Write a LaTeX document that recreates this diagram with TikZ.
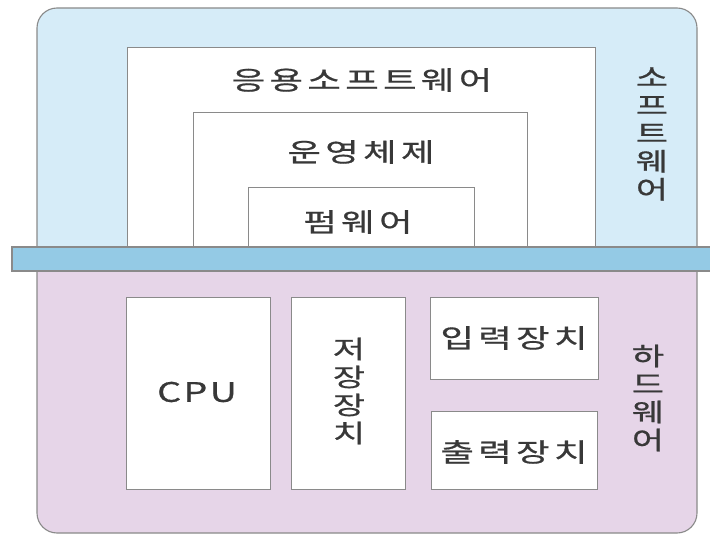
\documentclass[tikz,border=0pt]{standalone}
\usepackage{fontspec}
\newfontfamily\kfont[FakeBold=0.6]{Noto Sans CJK KR}
\newfontfamily\kfontsp[LetterSpace=12,FakeBold=0.6]{Noto Sans CJK KR}
\definecolor{swfill}{HTML}{D6ECF8}
\definecolor{barfill}{HTML}{94CAE5}
\definecolor{hwfill}{HTML}{E6D5E8}
\definecolor{edge}{HTML}{8A8A8A}
\definecolor{txt}{HTML}{383838}
\tikzset{
  box/.style={draw=edge, line width=1.1pt, fill=white, anchor=north west, inner sep=0pt},
  lbl/.style={font=\kfontsp\fontsize{26}{28}\selectfont, text=txt, inner sep=0pt, xscale=1.4, transform shape},
  vlbl/.style={font=\kfont\fontsize{25}{28}\selectfont, text=txt, inner sep=0pt, align=center, xscale=1.4, transform shape},
}
\begin{document}
\begin{tikzpicture}[x=1pt,y=-1pt]
\useasboundingbox (0,0) rectangle (710,535);
% software region
\path[fill=swfill, draw=edge, line width=1.1pt, rounded corners=20]
  (37,250) -- (37,8) -- (697,8) -- (697,250);
% hardware region
\path[fill=hwfill, draw=edge, line width=1.1pt, rounded corners=20]
  (37,268) -- (37,533) -- (697,533) -- (697,268);
% software boxes
\node[box, minimum width=468pt, minimum height=200pt] (app) at (127,47) {};
\node[box, minimum width=334pt, minimum height=135pt] (os) at (193,112) {};
\node[box, minimum width=226pt, minimum height=60pt] (fw) at (248,187) {};
\node[lbl] (appt) at (362,80) {응용소프트웨어};
\node[lbl] (ost) at (361,152) {운영체제};
\node[lbl] (fwt) at (358,222) {펌웨어};
\node[vlbl] (swt) at (652,134) {소\\프\\트\\웨\\어};
% bar
\path[fill=barfill, draw=edge, line width=1.1pt] (714,247) -- (12,247) -- (12,271) -- (714,271);
\node[inner sep=0pt] (bar) at (361,259) {};
% hardware boxes
\node[box, minimum width=144pt, minimum height=192pt] (cpu) at (126,297) {};
\node[box, minimum width=114pt, minimum height=192pt] (sto) at (291,297) {};
\node[box, minimum width=168pt, minimum height=82pt] (in) at (430,297) {};
\node[box, minimum width=166pt, minimum height=78pt] (out) at (431,411) {};
\node[lbl, font=\kfont\addfontfeature{LetterSpace=6}\fontsize{27}{28}\selectfont] (cput) at (197,392) {CPU};
\node[vlbl] (stot) at (349,391) {저\\장\\장\\치};
\node[lbl] (int) at (514,338) {입력장치};
\node[lbl] (outt) at (514,452) {출력장치};
\node[vlbl] (hwt) at (648,398) {하\\드\\웨\\어};
\end{tikzpicture}
\end{document}
